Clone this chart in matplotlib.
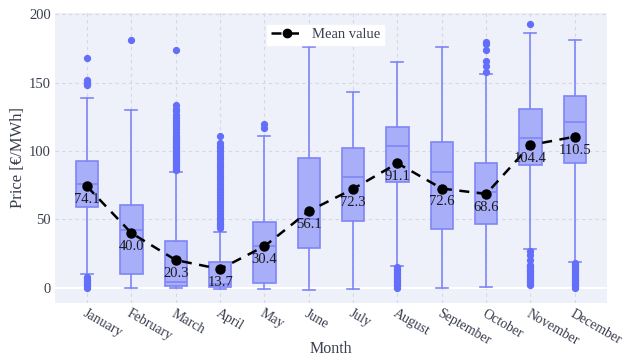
import matplotlib
matplotlib.use("Agg")
import matplotlib.pyplot as plt
from matplotlib.lines import Line2D

plt.rcParams['font.family'] = ['Liberation Serif', 'DejaVu Serif']

months = ["January", "February", "March", "April", "May", "June", "July",
          "August", "September", "October", "November", "December"]
means = [74.1, 40.0, 20.3, 13.7, 30.4, 56.1, 72.3, 91.1, 72.6, 68.6, 104.4, 110.5]
q1 = [59, 10, 1, 0.7, 3.6, 29, 49, 77, 43, 47, 90, 91]
medians = [76, 42, 4.4, 3, 30.6, 50, 81, 104, 85, 70, 109.5, 121]
q3 = [93, 60.5, 34.5, 19, 48, 95, 102, 117.5, 106.6, 91, 130.6, 140]
whis_lo = [10, 0, 0, -1, -1, -1.5, -0.5, 16, 0, 0.5, 28.5, 19]
whis_hi = [139, 130, 85, 41, 111, 176, 143, 165, 176, 156, 186, 181]
fliers = [
    [0, 1, 2, 3, 4, 5, 6, 7, 8, 148, 149, 150, 151, 152, 168],
    [181],
    [86, 87, 88, 89, 90, 91, 92, 93, 94, 95, 96, 97, 98, 99, 100, 101, 102,
     103, 104, 105, 106, 107, 108, 109, 110, 112, 114, 116, 118, 120, 122,
     124, 126, 129, 131, 134, 174],
    [44, 45, 46, 47, 48, 50, 52, 54, 56, 58, 60, 62, 64, 66, 68, 70, 72, 74,
     76, 78, 80, 82, 84, 86, 88, 90, 92, 94, 96, 98, 100, 102, 104, 106, 111],
    [117, 120],
    [],
    [],
    [0, 1, 2, 3, 4, 5, 6, 7, 8, 9, 10, 11, 12, 13, 14, 15],
    [],
    [158, 162, 166, 174, 178, 180],
    [2, 3, 4, 5, 6, 7, 8, 9, 10, 11, 12, 13, 14, 15, 16, 17, 20, 24, 27, 193],
    [0, 1, 2, 3, 4, 5, 6, 7, 8, 9, 10, 11, 12, 13, 14, 15, 16, 17, 18],
]

BOX = '#636efa'
BG = '#eef1f9'
TXT = '#3a3f50'

fig = plt.figure(figsize=(6.34, 3.58), dpi=100)
ax = fig.add_axes([0.087, 0.154, 0.87, 0.81])
ax.set_facecolor(BG)

stats = []
for i in range(len(months)):
    stats.append(dict(med=medians[i], q1=q1[i], q3=q3[i], whislo=whis_lo[i],
                      whishi=whis_hi[i], fliers=fliers[i], mean=means[i]))
pos = list(range(len(months)))

ax.bxp(stats, positions=pos, widths=0.5, patch_artist=True, showmeans=False,
       boxprops=dict(facecolor='#a8aff8', edgecolor='#7e86f6', linewidth=1.2),
       medianprops=dict(color='#7e86f6', linewidth=1.2),
       whiskerprops=dict(color='#7e86f6', linewidth=1.2),
       capprops=dict(color='#7e86f6', linewidth=1.2),
       capwidths=0.27,
       flierprops=dict(marker='o', markerfacecolor=BOX, markeredgecolor=BOX,
                       markersize=4.2, linestyle='none'),
       zorder=3)

ax.plot(pos, means, color='black', linestyle=(0, (4, 3)), linewidth=1.8,
        marker='o', markersize=6.5, zorder=5)
for x, m in zip(pos, means):
    ax.annotate(f"{m:.1f}", (x, m), xytext=(0, -5), textcoords='offset points',
                ha='center', va='top', fontsize=10.5, color='#1a1a1a', zorder=6)

ax.set_xlim(-0.72, 11.72)
ax.set_ylim(-11, 201)
ax.set_yticks([0, 50, 100, 150, 200])
ax.set_xticks(pos)
ax.set_xticklabels(months, rotation=-30, ha='left', rotation_mode='anchor',
                   fontsize=10, color=TXT)
for lab in ax.get_yticklabels():
    lab.set_fontsize(10.5)
    lab.set_color(TXT)
ax.tick_params(axis='y', length=0, pad=3)
ax.tick_params(axis='x', length=0, pad=3)

ax.grid(True, color='#d3d8e2', linestyle=(0, (3, 3)), linewidth=0.8, zorder=0)
ax.axhline(0, color='white', linewidth=1.5, zorder=1)
ax.set_axisbelow(True)
for s in ax.spines.values():
    s.set_visible(False)

ax.set_ylabel("Price [€/MWh]", fontsize=12, color=TXT)
ax.yaxis.set_label_coords(-0.052, 0.5)
ax.set_xlabel("Month", fontsize=11.5, color=TXT, labelpad=-5)

handle = Line2D([0], [0], color='black', linestyle=(0, (4, 3)), linewidth=1.8,
                marker='o', markersize=6)
leg = ax.legend([handle], ["Mean value"], loc='upper center',
                bbox_to_anchor=(0.49, 0.985), frameon=True, fancybox=False,
                framealpha=1, edgecolor='white', fontsize=10.5,
                handlelength=2.2, borderpad=0.25, handletextpad=0.6)
for t in leg.get_texts():
    t.set_color(TXT)

fig.savefig("out.png", dpi=100, facecolor='white')
